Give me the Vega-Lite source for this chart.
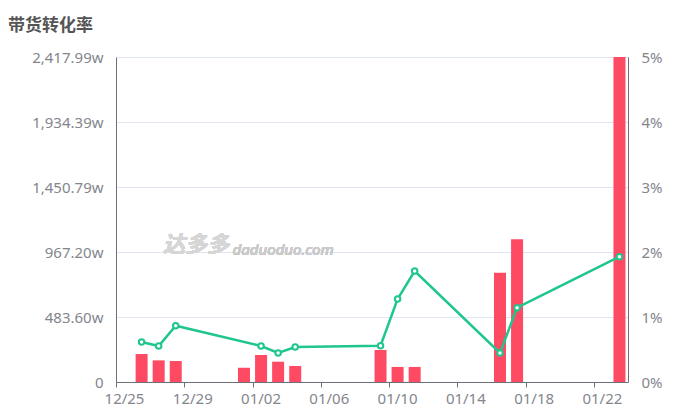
{
  "$schema": "https://vega.github.io/schema/vega-lite/v6.json",
  "width": 512,
  "height": 325,
  "autosize": {"type": "none"},
  "padding": {"left": 116, "top": 57, "right": 55, "bottom": 38},
  "background": "white",
  "title": {
    "text": "带货转化率",
    "anchor": "start",
    "frame": "group",
    "dx": -108,
    "offset": 15,
    "font": "Noto Sans CJK SC",
    "fontSize": 17,
    "fontWeight": "bold",
    "color": "#555555"
  },
  "config": {
    "view": {"stroke": null},
    "font": "Noto Sans"
  },
  "data": {
    "values": [
      {"date": "2024-12-26T12:00:00Z", "gmv": 208, "rate": 0.615},
      {"date": "2024-12-27T12:00:00Z", "gmv": 161, "rate": 0.554},
      {"date": "2024-12-28T12:00:00Z", "gmv": 156, "rate": 0.866},
      {"date": "2025-01-01T12:00:00Z", "gmv": 106, "rate": null},
      {"date": "2025-01-02T12:00:00Z", "gmv": 201, "rate": 0.554},
      {"date": "2025-01-03T12:00:00Z", "gmv": 151, "rate": 0.446},
      {"date": "2025-01-04T12:00:00Z", "gmv": 119, "rate": 0.538},
      {"date": "2025-01-09T12:00:00Z", "gmv": 238, "rate": 0.559},
      {"date": "2025-01-10T12:00:00Z", "gmv": 112, "rate": 1.277},
      {"date": "2025-01-11T12:00:00Z", "gmv": 112, "rate": 1.708},
      {"date": "2025-01-16T12:00:00Z", "gmv": 813, "rate": 0.446},
      {"date": "2025-01-17T12:00:00Z", "gmv": 1062, "rate": 1.143},
      {"date": "2025-01-23T12:00:00Z", "gmv": 2417.99, "rate": 1.928}
    ]
  },
  "layer": [
    {
      "mark": {"type": "bar", "width": 12, "color": "#FF4A63"},
      "encoding": {
        "x": {
          "field": "date",
          "type": "temporal",
          "scale": {
            "type": "utc",
            "padding": 0,
            "domain": [
              {"year": 2024, "month": 12, "date": 25, "utc": true},
              {"year": 2025, "month": 1, "date": 24, "utc": true}
            ]
          },
          "axis": {
            "title": null,
            "format": "%m/%d",
            "values": [
              {"year": 2024, "month": 12, "date": 25, "utc": true},
              {"year": 2024, "month": 12, "date": 29, "utc": true},
              {"year": 2025, "month": 1, "date": 2, "utc": true},
              {"year": 2025, "month": 1, "date": 6, "utc": true},
              {"year": 2025, "month": 1, "date": 10, "utc": true},
              {"year": 2025, "month": 1, "date": 14, "utc": true},
              {"year": 2025, "month": 1, "date": 18, "utc": true},
              {"year": 2025, "month": 1, "date": 22, "utc": true}
            ],
            "grid": false,
            "domainColor": "#6E7079",
            "tickColor": "#6E7079",
            "tickSize": 5,
            "labelFlush": false,
            "labelOffset": 8,
            "labelColor": "#84868D",
            "labelFontSize": 15,
            "labelPadding": 4,
            "labelFont": "Noto Sans"
          }
        },
        "y": {
          "field": "gmv",
          "type": "quantitative",
          "scale": {"domain": [0, 2417.99], "nice": false, "zero": true},
          "axis": {
            "title": null,
            "values": [0, 483.598, 967.196, 1450.794, 1934.392, 2417.99],
            "labelExpr": "datum.value == 0 ? '0' : format(datum.value, ',.2f') + 'w'",
            "grid": true,
            "gridColor": "#E0E6F1",
            "domain": true,
            "domainColor": "#6E7079",
            "ticks": false,
            "labelColor": "#84868D",
            "labelFontSize": 15,
            "labelPadding": 13,
            "labelFont": "Noto Sans"
          }
        }
      }
    },
    {
      "transform": [{"filter": "datum.rate != null"}],
      "mark": {
        "type": "line",
        "color": "#1FC68E",
        "strokeWidth": 2.5,
        "point": {"filled": true, "fill": "white", "stroke": "#1FC68E", "strokeWidth": 2, "size": 30}
      },
      "encoding": {
        "x": {"field": "date", "type": "temporal"},
        "y": {
          "field": "rate",
          "type": "quantitative",
          "scale": {"domain": [0, 5], "nice": false},
          "axis": {
            "title": null,
            "orient": "right",
            "values": [0, 1, 2, 3, 4, 5],
            "labelExpr": "datum.value + '%'",
            "grid": false,
            "domain": true,
            "domainColor": "#6E7079",
            "ticks": false,
            "labelColor": "#84868D",
            "labelFontSize": 15,
            "labelPadding": 13,
            "labelFont": "Noto Sans"
          }
        }
      }
    },
    {
      "mark": {"type": "text", "text": "达多多", "align": "left", "baseline": "middle", "font": "Noto Sans CJK SC", "fontSize": 22, "fontWeight": "bold", "fontStyle": "italic", "color": "#D6D6D6"},
      "encoding": {
        "x": {"datum": {"year": 2024, "month": 12, "date": 27, "hours": 18, "utc": true}, "type": "temporal"},
        "y": {"datum": 1019, "type": "quantitative", "scale": {"domain": [0, 2417.99], "nice": false}, "axis": null}
      }
    },
    {
      "mark": {"type": "text", "text": "daduoduo.com", "align": "left", "baseline": "middle", "font": "Noto Sans", "fontSize": 15, "fontStyle": "italic", "color": "#CACACA"},
      "encoding": {
        "x": {"datum": {"year": 2024, "month": 12, "date": 31, "hours": 20, "utc": true}, "type": "temporal"},
        "y": {"datum": 985, "type": "quantitative", "scale": {"domain": [0, 2417.99], "nice": false}, "axis": null}
      }
    }
  ],
  "resolve": {"scale": {"y": "independent"}}
}
